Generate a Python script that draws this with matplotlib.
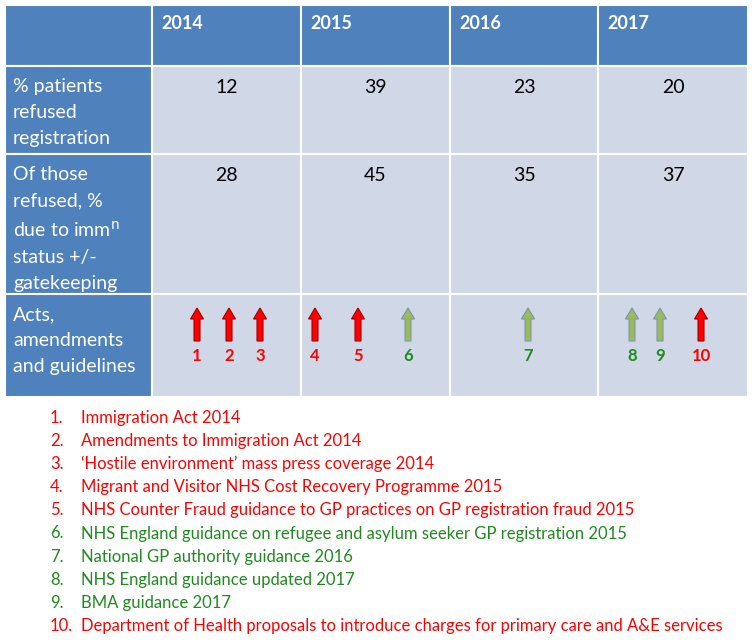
import matplotlib.pyplot as plt
from matplotlib.patches import Rectangle, FancyArrow

plt.rcParams['font.family'] = ['Lato', 'DejaVu Sans']

years = ["2014", "2015", "2016", "2017"]
row_labels = ["% patients\nrefused\nregistration",
              "Of those\nrefused, %\ndue to imm$^{\\mathrm{n}}$\nstatus +/-\ngatekeeping",
              "Acts,\namendments\nand guidelines"]
pct_refused = [12, 39, 23, 20]
pct_immigration = [28, 45, 35, 37]

# acts: number, year column, restrictive (red) or supportive (green)
act_nums = [1, 2, 3, 4, 5, 6, 7, 8, 9, 10]
act_year = ["2014", "2014", "2014", "2015", "2015", "2015", "2016", "2017", "2017", "2017"]
act_kind = ["r", "r", "r", "r", "r", "g", "g", "g", "g", "r"]
act_text = [
    "Immigration Act 2014",
    "Amendments to Immigration Act 2014",
    "\u2018Hostile environment\u2019 mass press coverage 2014",
    "Migrant and Visitor NHS Cost Recovery Programme 2015",
    "NHS Counter Fraud guidance to GP practices on GP registration fraud 2015",
    "NHS England guidance on refugee and asylum seeker GP registration 2015",
    "National GP authority guidance 2016",
    "NHS England guidance updated 2017",
    "BMA guidance 2017",
    "Department of Health proposals to introduce charges for primary care and A&E services",
]

# layout (pixels)
col_edges = [5, 152, 301, 450, 598, 748]
row_edges = [5, 66, 154, 294, 397]
arrow_x = [197, 229, 260, 315, 358, 408, 528, 632, 660, 701]

header_c = "#4F81BD"
cell_c = "#D0D8E8"
red = "#FF0000"
green = "#1F8A1F"
arrow_fill = {"r": "#FF0000", "g": "#9BBB59"}
arrow_edge = {"r": "#A00000", "g": "#7F93B5"}
num_c = {"r": red, "g": green}

fig = plt.figure(figsize=(7.52, 6.44), dpi=100)
ax = fig.add_axes([0, 0, 1, 1])
ax.set_xlim(0, 752)
ax.set_ylim(644, 0)
ax.axis("off")

for ri in range(4):
    for ci in range(5):
        x0, x1 = col_edges[ci], col_edges[ci + 1]
        y0, y1 = row_edges[ri], row_edges[ri + 1]
        fc = header_c if (ri == 0 or ci == 0) else cell_c
        ax.add_patch(Rectangle((x0, y0), x1 - x0, y1 - y0, facecolor=fc,
                               edgecolor="white", linewidth=1.5))

for ci, yr in enumerate(years):
    ax.text(col_edges[ci + 1] + 9, 15, yr, color="white", fontsize=13,
            fontweight="bold", va="top", ha="left")

for ri, lab in enumerate(row_labels):
    ax.text(col_edges[0] + 8, row_edges[ri + 1] + 12, lab, color="white",
            fontsize=14, va="top", ha="left", linespacing=1.64)

for ci in range(4):
    xc = (col_edges[ci + 1] + col_edges[ci + 2]) / 2
    ax.text(xc, row_edges[1] + 13, str(pct_refused[ci]), fontsize=14,
            va="top", ha="center", color="black")
    ax.text(xc, row_edges[2] + 13, str(pct_immigration[ci]), fontsize=14,
            va="top", ha="center", color="black")

for n, k, x in zip(act_nums, act_kind, arrow_x):
    ax.add_patch(FancyArrow(x, 341, 0, -33, width=6, head_width=13,
                            head_length=11, length_includes_head=True,
                            facecolor=arrow_fill[k], edgecolor=arrow_edge[k],
                            linewidth=0.8))
    ax.text(x, 356, str(n), color=num_c[k], fontsize=12, fontweight="bold",
            ha="center", va="center")

for i, (n, k, t) in enumerate(zip(act_nums, act_kind, act_text)):
    y = 418 + i * 23.1
    c = red if k == "r" else green
    ax.text(50, y, f"{n}.", color=c, fontsize=12, va="center", ha="left")
    ax.text(81, y, t, color=c, fontsize=12, va="center", ha="left")

fig.savefig("out.png", dpi=100)
